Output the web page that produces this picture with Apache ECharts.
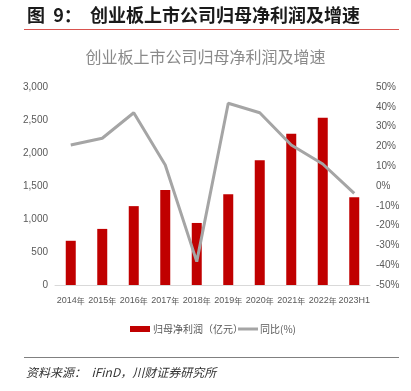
<!DOCTYPE html>
<html><head><meta charset="utf-8">
<script src="https://cdn.jsdelivr.net/npm/echarts@6/dist/echarts.min.js"></script>
<style>html,body{margin:0;padding:0;background:#fff}#c{width:411px;height:391px}</style>
</head><body><div id="c"></div>
<script>
const categories = ['2014年','2015年','2016年','2017年','2018年','2019年','2020年','2021年','2022年','2023H1'];
const profit = [670, 850, 1195, 1440, 940, 1375, 1890, 2290, 2535, 1330];
const growth = [20.7, 24.1, 37.0, 10.6, -38.2, 41.8, 37.0, 20.7, 11.1, -3.7];
const leftTicks = [0, 3000, 500];
const rightTicks = [-50, 50, 10];
const seriesNames = ['归母净利润（亿元）', '同比(%)'];

const font = '"Noto Sans CJK SC", "Noto Sans", sans-serif';
const latin = '"Liberation Sans", "Noto Sans CJK SC", sans-serif';
const chart = echarts.init(document.getElementById('c'));
chart.setOption({
  animation: false,
  backgroundColor: '#fff',
  title: {
    text: '创业板上市公司归母净利润及增速',
    left: 'center', top: 44,
    textStyle: {fontFamily: font, fontSize: 16, fontWeight: 'normal', color: '#8a8a8a'}
  },
  graphic: [
    {type: 'text', left: 27, top: 6, style: {text: '图  9：  创业板上市公司归母净利润及增速', font: 'bold 18px ' + font, fill: '#1a1a1a'}},
    {type: 'line', shape: {x1: 24, y1: 29.5, x2: 399, y2: 29.5}, style: {stroke: '#d9534f', lineWidth: 1.2}},
    {type: 'line', shape: {x1: 24, y1: 357.5, x2: 399, y2: 357.5}, style: {stroke: '#808080', lineWidth: 1.2}},
    {type: 'text', left: 26, top: 366, style: {text: '资料来源：  iFinD，川财证券研究所', font: 'italic 12px ' + font, fill: '#333'}}
  ],
  legend: [
    {data: [seriesNames[0]], top: 324, left: 130, padding: 0, itemWidth: 20, itemHeight: 6, icon: 'rect',
     textStyle: {fontFamily: font, fontSize: 10, color: '#595959', padding: [0,0,0,-2]}},
    {data: [seriesNames[1]], top: 324, left: 238, padding: 0, itemWidth: 20, itemHeight: 3, icon: 'rect',
     textStyle: {fontFamily: font, fontSize: 10, color: '#595959', padding: [0,0,0,-3]}}
  ],
  grid: {left: 55, right: 41, top: 87, bottom: 106},
  xAxis: {
    type: 'category', data: categories,
    axisLine: {lineStyle: {color: '#d9d9d9'}},
    axisTick: {show: false},
    axisLabel: {interval: 0, fontFamily: latin, fontSize: 9, color: '#595959', margin: 11,
      formatter: v => v.endsWith('年') ? v.slice(0, -1) + '{n|年}' : v,
      rich: {n: {fontFamily: font, fontSize: 8, color: '#595959'}}}
  },
  yAxis: [
    {type: 'value', min: leftTicks[0], max: leftTicks[1], interval: leftTicks[2],
     splitLine: {show: false}, axisLine: {show: false}, axisTick: {show: false},
     axisLabel: {fontFamily: latin, fontSize: 10, color: '#595959', margin: 7,
       formatter: v => v.toLocaleString('en-US')}},
    {type: 'value', min: rightTicks[0], max: rightTicks[1], interval: rightTicks[2],
     splitLine: {show: false}, axisLine: {show: false}, axisTick: {show: false},
     axisLabel: {fontFamily: latin, fontSize: 10, color: '#595959', margin: 6, formatter: '{value}%'}}
  ],
  series: [
    {name: seriesNames[0], type: 'bar', data: profit, barWidth: 10, itemStyle: {color: '#C00000'}},
    {name: seriesNames[1], type: 'line', yAxisIndex: 1, data: growth, symbol: 'none',
     lineStyle: {color: '#A5A5A5', width: 3}, itemStyle: {color: '#A5A5A5'}}
  ]
});
</script></body></html>
